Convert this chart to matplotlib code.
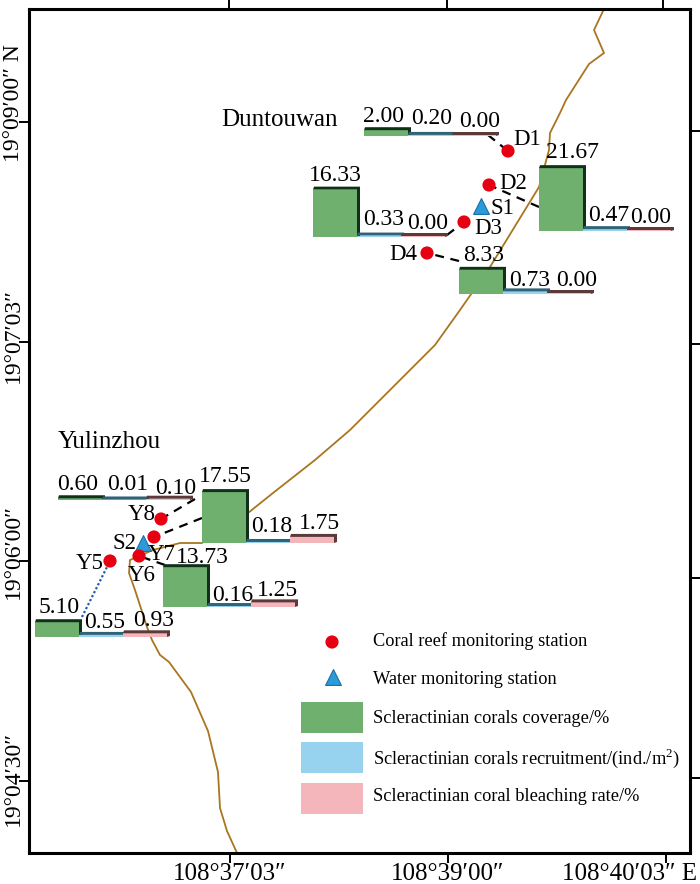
import matplotlib

matplotlib.use("Agg")
import matplotlib.pyplot as plt
from matplotlib.patches import Polygon, Rectangle

# ===================== Data =====================
# map positions are given in picture coordinates of the sheet
group_names = ["D1", "D3", "D2", "D4", "Y8", "Y7", "Y6", "Y5"]
group_x = [364, 313, 539, 459, 58, 202, 163, 35]
group_base = [136, 237, 231, 294, 500, 543, 607, 637]
coverage = [2.00, 16.33, 21.67, 8.33, 0.60, 17.55, 13.73, 5.10]
recruitment = [0.20, 0.33, 0.47, 0.73, 0.01, 0.18, 0.16, 0.55]
bleaching = [0.00, 0.00, 0.00, 0.00, 0.10, 1.75, 1.25, 0.93]
cov_labels = ["2.00", "16.33", "21.67", "8.33", "0.60", "17.55", "13.73", "5.10"]
rec_labels = ["0.20", "0.33", "0.47", "0.73", "0.01", "0.18", "0.16", "0.55"]
ble_labels = ["0.00", "0.00", "0.00", "0.00", "0.10", "1.75", "1.25", "0.93"]

# where the value labels sit
cov_lab_x = [384, 335, 572, 484, 78, 225, 202, 59]
cov_lab_y = [117, 176, 153, 256, 485, 477, 558, 608]
rec_lab_x = [432, 384, 609, 530, 128, 272, 233, 105]
rec_lab_y = [119, 220, 216, 281, 485, 527, 596, 623]
ble_lab_x = [480, 428, 651, 577, 176, 319, 277, 154]
ble_lab_y = [122, 224, 218, 281, 489, 524, 591, 621]

reef_names = ["D1", "D2", "D3", "D4", "Y8", "Y7", "Y6", "Y5"]
reef_x = [508, 489, 464, 427, 161, 154, 139, 110]
reef_y = [151, 185, 222, 253, 519, 537, 556, 561]
reef_lab_x = [527, 513, 488, 403, 142, 162, 142, 90]
reef_lab_y = [140, 184, 229, 255, 515, 555, 576, 564]

water_names = ["S1", "S2"]
water_x = [481, 143]
water_y = [206, 543]
water_lab_x = [502, 125]
water_lab_y = [209, 544]

leader_x0 = [488, 539, 447, 459, 195, 202, 165]
leader_y0 = [135, 207, 235, 261, 499, 518, 565]
leader_x1 = [508, 489, 464, 427, 161, 154, 139]
leader_y1 = [151, 185, 222, 253, 519, 537, 556]
dot_x = [82, 110]
dot_y = [617, 561]

coast_x = [604, 594, 604, 589, 566, 560, 550, 549, 539, 490, 460, 435, 350, 315,
           273, 248, 202, 180, 153, 130, 129, 135, 147, 152, 160, 169, 191, 208,
           218, 220, 227, 237]
coast_y = [9, 30, 53, 64, 100, 113, 133, 150, 187, 267, 310, 345, 430, 460, 493,
           513, 543, 543, 550, 560, 573, 590, 627, 640, 655, 662, 692, 731, 772,
           808, 831, 853]

left_ticks = [122, 342, 561, 781]
right_ticks = [131, 344, 578, 778]
top_ticks = [229, 447, 663]
bottom_ticks = [230, 448, 666]
left_labels = ["19°09′00″ N", "19°07′03″", "19°06′00″", "19°04′30″"]
left_lab_y = [103, 336, 552, 778]
bottom_labels = ["108°37′03″", "108°39′00″", "108°40′03″ E"]
bottom_lab_x = [230, 448, 629]

legend_labels = ["Coral reef monitoring station", "Water monitoring station",
                 "Scleractinian corals coverage/%",
                 "Scleractinian corals recruitment/(ind./m$^{2}$)",
                 "Scleractinian coral bleaching rate/%"]

# ===================== Style =====================
GREEN = "#6fb06f"
BLUE = "#97d3ee"
PINK = "#f5b6bb"
COAST = "#a9761f"
RED = "#e60012"
TRI = "#2a9bd8"
bar_w = 44
scale = 2.9
off = 3

plt.rcParams.update({
    "font.family": ["Liberation Serif", "DejaVu Serif"],
    "mathtext.fontset": "custom",
    "mathtext.rm": "Liberation Serif",
    "font.size": 17,
})

fig = plt.figure(figsize=(7.0, 8.84), dpi=100)
ax = fig.add_axes([29 / 700, 1 - 853 / 884, (690 - 29) / 700, (853 - 9) / 884])
ax.set_xlim(29, 690)
ax.set_ylim(853, 9)

# ===================== Coast =====================
ax.plot(coast_x, coast_y, color=COAST, lw=1.3, zorder=1)


def draw_bar(x, base, value, color, top_col, min_h):
    # flat bar with a dark top and side
    h = value * scale + min_h
    ax.bar(x, -h, width=bar_w, bottom=base, align="edge", color=color,
           edgecolor="none", zorder=3)
    top = base - h
    ax.add_patch(Polygon([(x, top), (x + 1, top - off), (x + bar_w + off, top - off),
                          (x + bar_w + off, base - 1), (x + bar_w, base), (x + bar_w, top)],
                         closed=True, fc=top_col, ec="none", zorder=3))


# ===================== Bar groups =====================
for i in range(len(group_names)):
    x0 = group_x[i]
    base = group_base[i]
    draw_bar(x0, base, coverage[i], GREEN, "#10301a", 0)
    draw_bar(x0 + bar_w, base, recruitment[i], BLUE, "#2f6478", 0.5)
    draw_bar(x0 + 2 * bar_w, base, bleaching[i], PINK, "#5c3a3a", 1)

    ax.text(cov_lab_x[i], cov_lab_y[i], cov_labels[i], ha="center", va="center", zorder=5)
    ax.text(rec_lab_x[i], rec_lab_y[i], rec_labels[i], ha="center", va="center", zorder=5)
    ax.text(ble_lab_x[i], ble_lab_y[i], ble_labels[i], ha="center", va="center", zorder=5)

# ===================== Leaders =====================
for i in range(len(leader_x0)):
    ax.plot([leader_x0[i], leader_x1[i]], [leader_y0[i], leader_y1[i]], color="black",
            lw=1.6, dashes=(4, 3), zorder=2)
ax.plot(dot_x, dot_y, color="#1c5fa8", lw=1.6, dashes=(1, 1), zorder=2)

# ===================== Stations =====================
ax.scatter(reef_x, reef_y, s=90, color=RED, edgecolor="none", zorder=6)
ax.scatter(water_x, water_y, s=130, marker="^", color=TRI, edgecolor="#1a6fa8",
           linewidth=0.8, zorder=5)
for name, x, y in zip(reef_names, reef_lab_x, reef_lab_y):
    ax.text(x, y, name, ha="center", va="center", fontsize=16.5, zorder=7)
for name, x, y in zip(water_names, water_lab_x, water_lab_y):
    ax.text(x, y, name, ha="center", va="center", fontsize=16.5, zorder=7)

ax.text(279, 120, "Duntouwan", ha="center", va="center", fontsize=18)
ax.text(109, 442, "Yulinzhou", ha="center", va="center", fontsize=18)

# ===================== Legend =====================
ax.scatter([332], [642], s=90, color=RED, edgecolor="none", zorder=6)
ax.scatter([333], [677], s=130, marker="^", color=TRI, edgecolor="#1a6fa8", linewidth=0.8, zorder=6)
for y, col in zip([702, 742, 783], [GREEN, BLUE, PINK]):
    ax.add_patch(Rectangle((301, y), 62, 31, fc=col, ec="none", zorder=3))
for y, lab in zip([641, 680, 719, 758, 797], legend_labels):
    ax.text(373, y, lab, ha="left", va="center", fontsize=13.2)

# ===================== Axes =====================
ax.set_xticks(bottom_ticks)
ax.set_xticklabels([])
ax.set_yticks(left_ticks)
ax.set_yticklabels([])
ax.tick_params(axis="both", width=1.4, length=7, pad=3)
for sp in ax.spines.values():
    sp.set_linewidth(2.2)

# tick labels are not centred on their ticks, so they go in by hand
for x, lab in zip(bottom_lab_x, bottom_labels):
    ax.text(x, 874, lab, ha="center", va="center", fontsize=18, clip_on=False)
for y, lab in zip(left_lab_y, left_labels):
    ax.text(13.5, y, lab, ha="center", va="center", rotation=90, fontsize=17, clip_on=False)

top = ax.secondary_xaxis("top")
top.set_xticks(top_ticks)
top.set_xticklabels([])
top.tick_params(width=1.4, length=7)
top.spines["top"].set_visible(False)
right = ax.secondary_yaxis("right")
right.set_yticks(right_ticks)
right.set_yticklabels([])
right.tick_params(width=1.4, length=7)
right.spines["right"].set_visible(False)

# ===================== Save =====================
fig.savefig("out.png", dpi=100)
